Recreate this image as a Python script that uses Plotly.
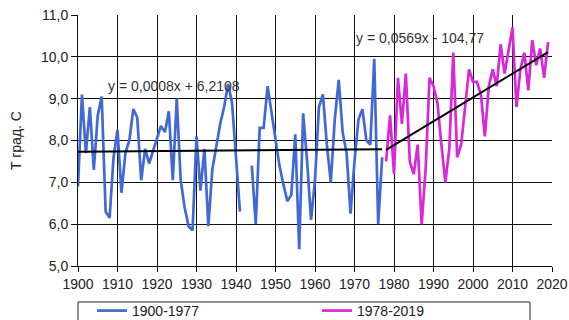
import plotly.graph_objects as go

# ---- data ----
years_a = list(range(1900, 1978))
temps_a = [6.9, 9.1, 7.7, 8.8, 7.3, 8.6, 9.05, 6.3, 6.15, 7.6,
           8.25, 6.75, 7.7, 8.0, 8.75, 8.55, 7.05, 7.8, 7.45, 7.75,
           8.1, 8.35, 8.2, 8.7, 7.05, 9.0, 7.05, 6.4, 5.95, 5.85,
           8.1, 6.8, 7.8, 5.95, 7.3, 7.9, 8.4, 8.8, 9.35, 8.9,
           7.7, 6.3, None, None, 7.4, 6.0, 8.3, 8.3, 9.3, 8.65,
           8.0, 7.4, 6.95, 6.55, 6.7, 8.15, 5.4, 8.65, 7.5, 6.1,
           7.05, 8.8, 9.1, 7.9, 7.0, 8.5, 9.45, 8.2, 7.7, 6.25,
           7.5, 8.5, 8.75, 8.0, 7.9, 9.95, 6.0, 7.6]
years_b = list(range(1978, 2020))
temps_b = [7.5, 8.6, 7.2, 9.5, 8.4, 9.6, 7.5, 7.2, 7.9, 6.0,
           7.3, 9.5, 9.3, 8.9, 7.9, 7.0, 7.8, 10.1, 7.6, 7.9,
           8.8, 9.7, 9.4, 9.4, 9.1, 8.1, 9.3, 9.7, 9.3, 10.3,
           9.6, 10.2, 10.7, 8.8, 9.7, 10.1, 9.2, 10.4, 9.8, 10.2,
           9.5, 10.35]
trend_a = (0.0008, 6.2108)
trend_b = (0.0569, -104.77)
label_a = "y = 0,0008x + 6,2108"
label_b = "y = 0,0569x - 104,77"
name_a = "1900-1977"
name_b = "1978-2019"
x_ticks = list(range(1900, 2021, 10))
y_ticks = [5, 6, 7, 8, 9, 10, 11]

BLUE = "#4068d6"
MAG = "#d928d9"
FONT = "Liberation Sans, Arial, sans-serif"

fig = go.Figure()
fig.add_trace(go.Scatter(x=years_a, y=temps_a, mode="lines", name=name_a,
                         line=dict(color=BLUE, width=2.7), connectgaps=False))
fig.add_trace(go.Scatter(x=years_b, y=temps_b, mode="lines", name=name_b,
                         line=dict(color=MAG, width=2.7)))

ta_x = [years_a[0], years_a[-1]]
fig.add_trace(go.Scatter(x=ta_x, y=[trend_a[0] * v + trend_a[1] for v in ta_x],
                         mode="lines", line=dict(color="black", width=2),
                         showlegend=False, hoverinfo="skip"))
tb_x = [years_b[0], years_b[-1]]
fig.add_trace(go.Scatter(x=tb_x, y=[trend_b[0] * v + trend_b[1] for v in tb_x],
                         mode="lines", line=dict(color="black", width=2),
                         showlegend=False, hoverinfo="skip"))

fig.add_annotation(x=1924.3, y=9.3, text=label_a, showarrow=False,
                   font=dict(family=FONT, size=14, color="#333"))
fig.add_annotation(x=1986.6, y=10.45, text=label_b, showarrow=False,
                   font=dict(family=FONT, size=14, color="#333"))

# legend frame (reaches past the bottom edge as in the reference)
fig.add_shape(type="rect", xref="paper", yref="paper",
              x0=0.0, x1=0.9536, y0=-0.1434, y1=-0.26,
              line=dict(color="#222", width=1), fillcolor="rgba(0,0,0,0)")

fig.update_layout(
    width=569, height=320,
    margin=dict(l=78, r=17, t=15, b=54, autoexpand=False),
    paper_bgcolor="white", plot_bgcolor="white",
    separators=", ",
    font=dict(family=FONT, size=14, color="#222"),
    showlegend=True,
    legend=dict(orientation="h", x=0.0295, xanchor="left", y=-0.1155, yanchor="top",
                borderwidth=0, bgcolor="rgba(0,0,0,0)", entrywidth=180,
                entrywidthmode="pixels", font=dict(family=FONT, size=14, color="#222"),
                itemwidth=30, tracegroupgap=0),
    xaxis=dict(range=[1900, 2020], tickvals=x_ticks, showgrid=True,
               gridcolor="#111", gridwidth=1, showline=True, linecolor="#111",
               linewidth=1, ticks="outside", ticklen=5, tickcolor="#111",
               zeroline=False, tickfont=dict(size=14)),
    yaxis=dict(range=[5, 11], tickvals=y_ticks, tickformat=".1f", showgrid=True,
               gridcolor="#111", gridwidth=1, showline=True, linecolor="#111",
               linewidth=1, ticks="outside", ticklen=6, tickcolor="#111",
               zeroline=False, tickfont=dict(size=14),
               title=dict(text="T град. С", font=dict(size=14), standoff=16)),
)

fig.write_html("out.html", config={"displayModeBar": False},
               post_script="document.body.style.margin='0';document.body.style.padding='0';")
